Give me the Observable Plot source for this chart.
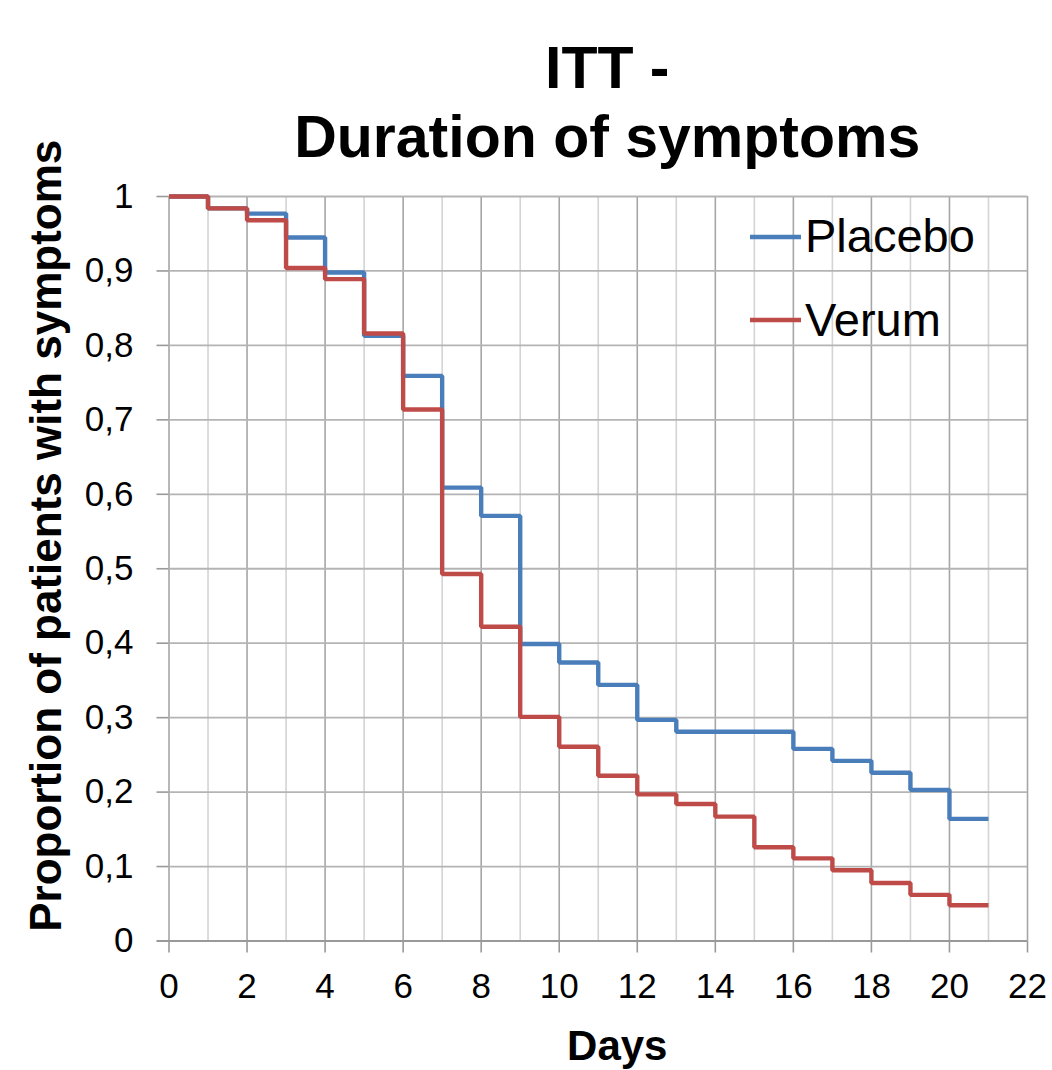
<!DOCTYPE html>
<html>
<head>
<meta charset="utf-8">
<script src="https://cdn.jsdelivr.net/npm/d3@7"></script>
<script src="https://cdn.jsdelivr.net/npm/@observablehq/plot@0.6"></script>
<style>
  html, body { margin: 0; padding: 0; background: #fff; }
  #chart { width: 1052px; height: 1070px; }
</style>
</head>
<body>
<div id="chart"></div>
<script>
// ---- data ----
const days = [0, 1, 2, 3, 4, 5, 6, 7, 8, 9, 10, 11, 12, 13, 14, 15, 16, 17, 18, 19, 20, 21];
const placebo = [1, 0.984, 0.977, 0.945, 0.898, 0.813, 0.759, 0.609, 0.571, 0.399, 0.374, 0.344, 0.297, 0.281, 0.281, 0.281, 0.258, 0.242, 0.226, 0.203, 0.164, 0.164];
const verum   = [1, 0.984, 0.968, 0.904, 0.889, 0.816, 0.714, 0.493, 0.422, 0.301, 0.261, 0.222, 0.197, 0.184, 0.167, 0.126, 0.111, 0.095, 0.078, 0.062, 0.048, 0.048];
const seriesNames = ["Placebo", "Verum"];
const seriesColors = ["#4a7ebb", "#be4b48"];
const xTicks = [0, 2, 4, 6, 8, 10, 12, 14, 16, 18, 20, 22];
const xMinorGrid = [1, 3, 5, 7, 9, 11, 13, 15, 17, 19, 21];
const yTicks = [0, 0.1, 0.2, 0.3, 0.4, 0.5, 0.6, 0.7, 0.8, 0.9, 1];
const titleLines = ["ITT -", "Duration of symptoms"];
const xLabel = "Days";
const yLabel = "Proportion of patients with symptoms";

const rows = [];
days.forEach((d, i) => rows.push({day: d, value: placebo[i], series: seriesNames[0]}));
days.forEach((d, i) => rows.push({day: d, value: verum[i], series: seriesNames[1]}));

const fmt = d => String(Math.round(d * 10) / 10).replace(".", ",");
const FONT = "'Liberation Sans', Arial, Helvetica, sans-serif";

const chart = Plot.plot({
  width: 1052,
  height: 1070,
  marginLeft: 168.5,
  marginRight: 25,
  marginTop: 196,
  marginBottom: 129.5,
  style: {fontFamily: FONT, fontSize: "35px", color: "#000", background: "#fff"},
  x: {domain: [0, 22]},
  y: {domain: [0, 1]},
  color: {domain: seriesNames, range: seriesColors},
  marks: [
    Plot.gridX(xMinorGrid, {stroke: "#d4d4d4", strokeOpacity: 1, strokeWidth: 1.6}),
    Plot.gridX(xTicks, {stroke: "#a6a6a6", strokeOpacity: 1, strokeWidth: 1.6}),
    Plot.gridY(yTicks, {stroke: "#b4b4b4", strokeOpacity: 1, strokeWidth: 1.8}),
    Plot.axisX({ticks: xTicks, tickSize: 12, tickPadding: 20, label: null, stroke: "#999", strokeWidth: 1.6, fontSize: 35, tickFormat: d => String(d)}),
    Plot.axisY({ticks: yTicks, tickSize: 12, tickPadding: 23.5, label: null, stroke: "#999", strokeWidth: 1.6, fontSize: 35, tickFormat: fmt}),
    Plot.ruleY([0], {stroke: "#999", strokeWidth: 1.8, x1: -0.3, x2: 22}),
    Plot.line(rows, {x: "day", y: "value", z: "series", stroke: "series", curve: "step-after", strokeWidth: 4.4, strokeLinejoin: "miter", strokeLinecap: "butt"}),
    Plot.text([titleLines[0]], {text: d => d, frameAnchor: "top", lineAnchor: "bottom", dx: 9, dy: -109, fontSize: 59, fontWeight: "bold", fill: "#000"}),
    Plot.text([titleLines[1]], {text: d => d, frameAnchor: "top", lineAnchor: "bottom", dx: 9, dy: -40, fontSize: 59, fontWeight: "bold", fill: "#000"}),
    Plot.text([xLabel], {text: d => d, frameAnchor: "bottom", lineAnchor: "bottom", dx: 19, dy: 119, fontSize: 42, fontWeight: "bold", fill: "#000"}),
    Plot.text([yLabel], {text: d => d, frameAnchor: "left", textAnchor: "middle", rotate: -90, lineAnchor: "middle", dx: -122, dy: -33, fontSize: 44, fontWeight: "bold", fill: "#000"})
  ]
});

// legend (inside the plot, top right), like the reference
const svg = d3.select(chart);
const legend = svg.append("g").attr("font-family", FONT).attr("font-size", 47).attr("text-anchor", "start");
const legendRows = [{y: 237, base: 252}, {y: 320, base: 336}];
seriesNames.forEach((name, i) => {
  const r = legendRows[i];
  legend.append("line").attr("x1", 750).attr("x2", 801).attr("y1", r.y).attr("y2", r.y)
    .attr("stroke", seriesColors[i]).attr("stroke-width", 4.4);
  legend.append("text").attr("x", 805).attr("y", r.base).attr("fill", "#000").attr("text-anchor", "start").text(name);
});

document.getElementById("chart").appendChild(chart);
</script>
</body>
</html>
